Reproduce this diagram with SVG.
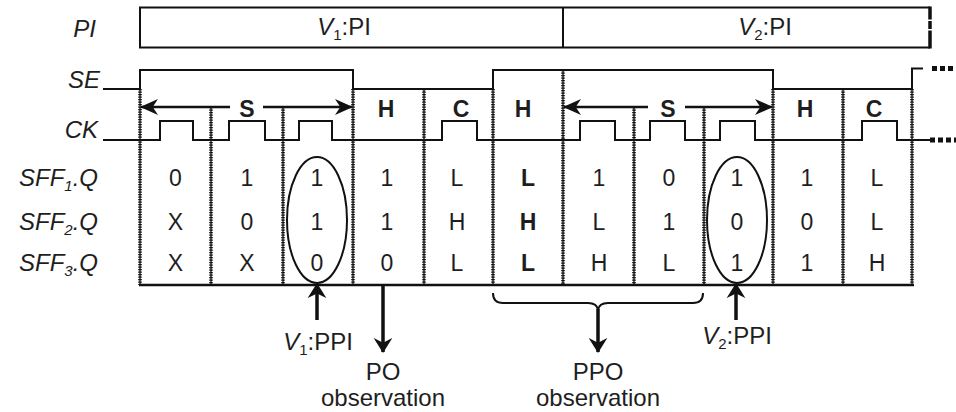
<svg xmlns="http://www.w3.org/2000/svg" width="956" height="412" viewBox="0 0 956 412">
  <style>
    text { font-family: "Liberation Sans", Arial, sans-serif; fill: #1e1e1e; }
    .lbl { font-size: 24px; font-style: italic; text-anchor: end; }
    .sub { font-size: 15px; }
    .val { font-size: 23px; text-anchor: middle; }
    .bold { font-weight: bold; }
    .phase { font-size: 23px; font-weight: bold; text-anchor: middle; }
    .note { font-size: 24px; text-anchor: middle; }
    .wire { fill: none; stroke: #111; stroke-width: 2; }
    .div-core { stroke: #111; stroke-width: 1.3; }
    .div-dots { stroke: #111; stroke-width: 3.6; stroke-dasharray: 1.3 1.2; }
    .ring { fill: none; stroke: #111; stroke-width: 2; }
    .dots { stroke: #111; stroke-width: 5; stroke-dasharray: 5 3; }
  </style>
  <defs>
    <marker id="head" viewBox="0 0 20 20" refX="19" refY="10" markerUnits="userSpaceOnUse" markerWidth="18" markerHeight="18" orient="auto-start-reverse">
      <path d="M0,1 L20,10 L0,19 L6,10 Z" fill="#111"/>
    </marker>
    <marker id="head2" viewBox="0 0 16 22" refX="15" refY="11" markerUnits="userSpaceOnUse" markerWidth="15" markerHeight="21" orient="auto">
      <path d="M0,1 L16,11 L0,21 L5,11 Z" fill="#111"/>
    </marker>
  </defs>

  <!-- signal names -->
  <g id="signal-labels">
    <text class="lbl" x="96" y="37">PI</text>
    <text class="lbl" x="100" y="88">SE</text>
    <text class="lbl" x="98" y="138">CK</text>
    <text class="lbl" x="98" y="186">SFF<tspan class="sub" dy="5">1</tspan><tspan dy="-5">.Q</tspan></text>
    <text class="lbl" x="98" y="230">SFF<tspan class="sub" dy="5">2</tspan><tspan dy="-5">.Q</tspan></text>
    <text class="lbl" x="98" y="271">SFF<tspan class="sub" dy="5">3</tspan><tspan dy="-5">.Q</tspan></text>
  </g>

  <!-- primary input vectors -->
  <g id="pi-bar">
    <path class="wire" d="M930,7.5 H140 V47.5 H930"/>
    <line class="wire" x1="563" y1="7.5" x2="563" y2="47.5"/>
    <line x1="930" y1="6.5" x2="930" y2="48.5" stroke="#111" stroke-width="3.5" stroke-dasharray="13 1.5 8 1.5 30"/>
    <text class="note" x="344" y="35"><tspan font-style="italic">V</tspan><tspan class="sub" dy="5">1</tspan><tspan dy="-5">:PI</tspan></text>
    <text class="note" x="765" y="35"><tspan font-style="italic">V</tspan><tspan class="sub" dy="5">2</tspan><tspan dy="-5">:PI</tspan></text>
  </g>

  <!-- scan enable and clock waveforms -->
  <g id="se-wave">
    <path class="wire" d="M103,89 H140 V70 H353 V89 H493 V70 H773 V89 H912 V68.5 H923"/>
    <line class="dots" x1="932" y1="68.5" x2="956" y2="68.5"/>
  </g>
  <g id="ck-wave">
    <path class="wire" d="M103,140 H160 V121 H193 V140 H229 V121 H265 V140 H299 V121 H332 V140 H442 V121 H477 V140 H580 V121 H615 V140 H650 V121 H685 V140 H720 V121 H755 V140 H862 V121 H897 V140 H930"/>
    <line class="dots" x1="930" y1="140" x2="956" y2="140"/>
  </g>

  <!-- clock-cycle boundaries -->
  <g id="cycle-dividers">
    <g class="div-core">
      <line x1="140" y1="89" x2="140" y2="285"/>
      <line x1="211" y1="107" x2="211" y2="285"/>
      <line x1="283" y1="107" x2="283" y2="285"/>
      <line x1="353" y1="89" x2="353" y2="285"/>
      <line x1="424" y1="89" x2="424" y2="285"/>
      <line x1="493" y1="89" x2="493" y2="285"/>
      <line x1="563" y1="70" x2="563" y2="285"/>
      <line x1="634" y1="107" x2="634" y2="285"/>
      <line x1="704" y1="107" x2="704" y2="285"/>
      <line x1="773" y1="89" x2="773" y2="285"/>
      <line x1="843" y1="89" x2="843" y2="285"/>
      <line x1="912" y1="89" x2="912" y2="285"/>
    </g>
    <g class="div-dots">
      <line x1="140" y1="89" x2="140" y2="285"/>
      <line x1="211" y1="107" x2="211" y2="285"/>
      <line x1="283" y1="107" x2="283" y2="285"/>
      <line x1="353" y1="89" x2="353" y2="285"/>
      <line x1="424" y1="89" x2="424" y2="285"/>
      <line x1="493" y1="89" x2="493" y2="285"/>
      <line x1="563" y1="70" x2="563" y2="285"/>
      <line x1="634" y1="107" x2="634" y2="285"/>
      <line x1="704" y1="107" x2="704" y2="285"/>
      <line x1="773" y1="89" x2="773" y2="285"/>
      <line x1="843" y1="89" x2="843" y2="285"/>
      <line x1="912" y1="89" x2="912" y2="285"/>
    </g>
    <line x1="139" y1="285" x2="914" y2="285" stroke="#111" stroke-width="2.5"/>
  </g>

  <!-- phase labels: shift / hold / capture -->
  <g id="phases">
    <text class="phase" x="247" y="117">S</text>
    <text class="phase" x="386" y="117">H</text>
    <text class="phase" x="461" y="117">C</text>
    <text class="phase" x="523" y="117">H</text>
    <text class="phase" x="668" y="117">S</text>
    <text class="phase" x="805" y="117">H</text>
    <text class="phase" x="874" y="117">C</text>
  </g>

  <!-- flip-flop values per cycle -->
  <g id="ff-values">
    <g id="row-sff1">
      <text class="val" x="175.5" y="186">0</text>
      <text class="val" x="247" y="186">1</text>
      <text class="val" x="317" y="186">1</text>
      <text class="val" x="387" y="186">1</text>
      <text class="val" x="457" y="186">L</text>
      <text class="val bold" x="528" y="186">L</text>
      <text class="val" x="599" y="186">1</text>
      <text class="val" x="669" y="186">0</text>
      <text class="val" x="737" y="186">1</text>
      <text class="val" x="807" y="186">1</text>
      <text class="val" x="877" y="186">L</text>
    </g>
    <g id="row-sff2">
      <text class="val" x="175.5" y="230">X</text>
      <text class="val" x="247" y="230">0</text>
      <text class="val" x="317" y="230">1</text>
      <text class="val" x="387" y="230">1</text>
      <text class="val" x="457" y="230">H</text>
      <text class="val bold" x="528" y="230">H</text>
      <text class="val" x="599" y="230">L</text>
      <text class="val" x="669" y="230">1</text>
      <text class="val" x="737" y="230">0</text>
      <text class="val" x="807" y="230">0</text>
      <text class="val" x="877" y="230">L</text>
    </g>
    <g id="row-sff3">
      <text class="val" x="175.5" y="271">X</text>
      <text class="val" x="247" y="271">X</text>
      <text class="val" x="317" y="271">0</text>
      <text class="val" x="387" y="271">0</text>
      <text class="val" x="457" y="271">L</text>
      <text class="val bold" x="528" y="271">L</text>
      <text class="val" x="599" y="271">H</text>
      <text class="val" x="669" y="271">L</text>
      <text class="val" x="737" y="271">1</text>
      <text class="val" x="807" y="271">1</text>
      <text class="val" x="877" y="271">H</text>
    </g>
    <ellipse class="ring" cx="317" cy="220" rx="30" ry="63"/>
    <ellipse class="ring" cx="737" cy="220" rx="30" ry="63"/>
  </g>

  <!-- annotation labels -->
  <g id="notes">
    <text class="note" x="318" y="350"><tspan font-style="italic">V</tspan><tspan class="sub" dy="5">1</tspan><tspan dy="-5">:PPI</tspan></text>
    <text class="note" x="383" y="380">PO</text>
    <text class="note" x="383" y="406">observation</text>
    <text class="note" x="598" y="380">PPO</text>
    <text class="note" x="598" y="406">observation</text>
    <text class="note" x="737" y="344"><tspan font-style="italic">V</tspan><tspan class="sub" dy="5">2</tspan><tspan dy="-5">:PPI</tspan></text>
  </g>

  <!-- arrows and brace -->
  <g id="connectors" fill="none" stroke="#111">
    <line x1="230" y1="107" x2="141" y2="107" stroke-width="2.5" marker-end="url(#head)"/>
    <line x1="263" y1="107" x2="352" y2="107" stroke-width="2.5" marker-end="url(#head)"/>
    <line x1="648" y1="107" x2="564" y2="107" stroke-width="2.5" marker-end="url(#head)"/>
    <line x1="685" y1="107" x2="772" y2="107" stroke-width="2.5" marker-end="url(#head)"/>
    <line x1="317" y1="320" x2="317" y2="284" stroke-width="3.5" marker-end="url(#head2)"/>
    <line x1="736" y1="320" x2="736" y2="284" stroke-width="3.5" marker-end="url(#head2)"/>
    <line x1="383" y1="286" x2="383" y2="352" stroke-width="3.5" marker-end="url(#head2)"/>
    <path d="M493,293 Q493,303 503,303 H588 Q597,303 598,310 Q599,303 608,303 H693 Q703,303 703,293" stroke-width="2"/>
    <line x1="598" y1="309" x2="598" y2="352" stroke-width="3.5" marker-end="url(#head2)"/>
  </g>
</svg>
